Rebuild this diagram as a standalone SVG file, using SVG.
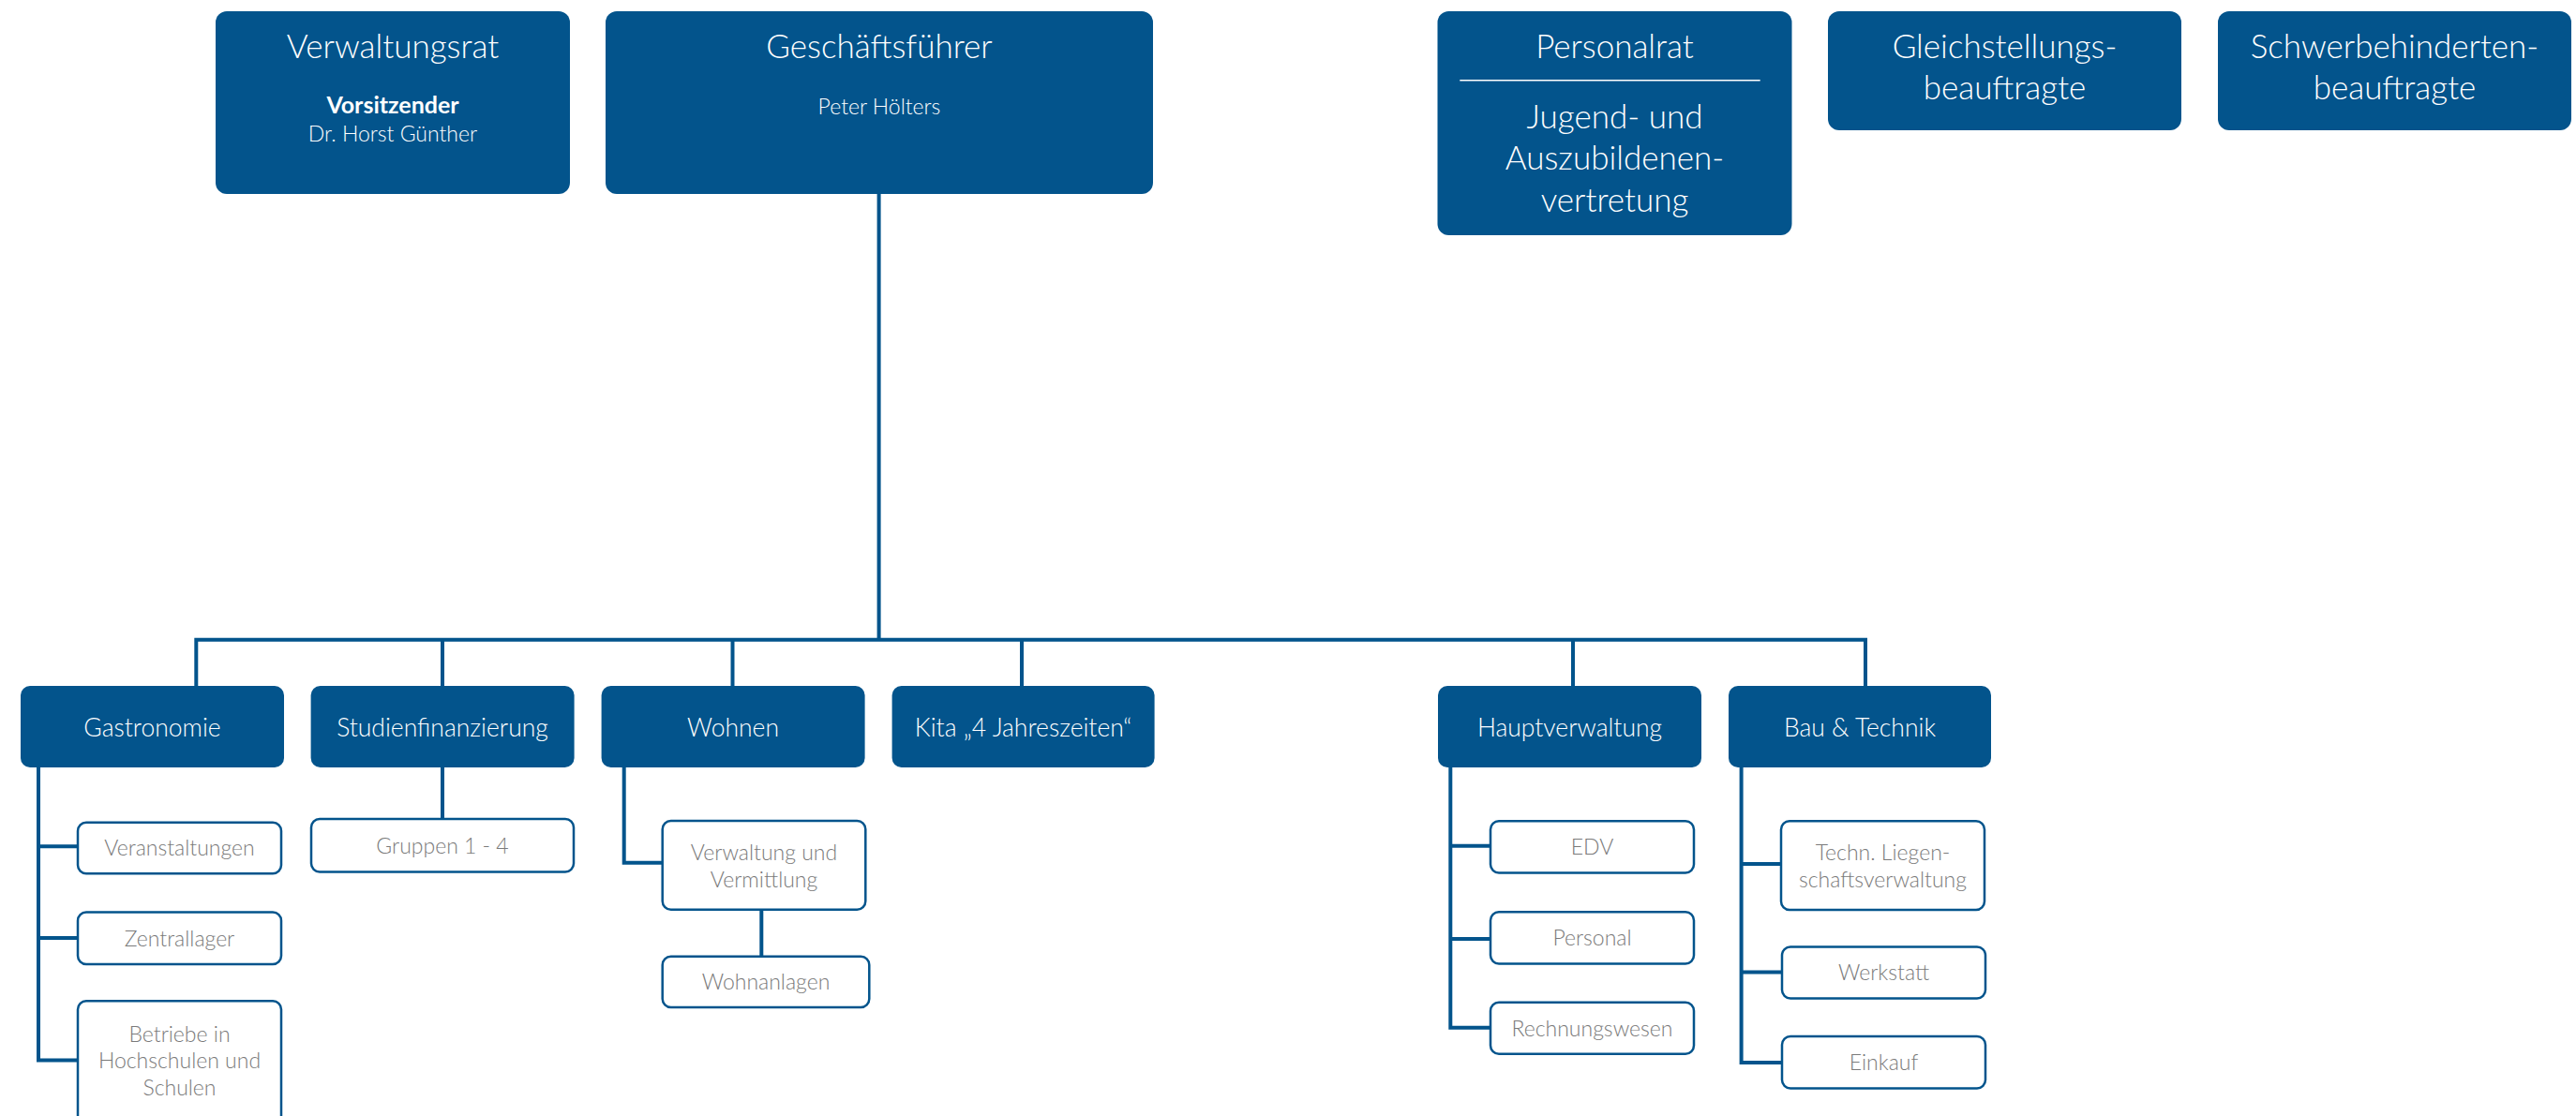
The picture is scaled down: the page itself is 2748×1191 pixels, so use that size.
<svg xmlns="http://www.w3.org/2000/svg" width="2748" height="1191" viewBox="0 0 2748 1191">
<style>
.dk{fill:#03548C;}
.sb{fill:#ffffff;stroke:#03548C;stroke-width:2.5;}
.ln{fill:none;stroke:#03548C;stroke-width:4;stroke-linejoin:miter;}
text{font-family:"Lato","Open Sans","Noto Sans",sans-serif;font-weight:300;text-anchor:middle;}
.t1{fill:#ffffff;font-size:35px;}
.t2{fill:#ffffff;font-size:26.5px;}
.t3{fill:#ffffff;font-size:23px;}
.tb{fill:#ffffff;font-size:25px;font-weight:700;}
.t4{fill:#7a7a7a;font-size:23px;}
</style>
<rect width="2748" height="1191" fill="#ffffff"/>
<g id="connectors">
<path class="ln" d="M937.6,207 V682.7"/>
<path class="ln" d="M209.3,732 V682.7 H1990 V732"/>
<path class="ln" d="M472,682.7 V732"/>
<path class="ln" d="M781.5,682.7 V732"/>
<path class="ln" d="M1090,682.7 V732"/>
<path class="ln" d="M1678,682.7 V732"/>
<path class="ln" d="M41,819 V1131.5 H83"/>
<path class="ln" d="M41,903.3 H83"/>
<path class="ln" d="M41,1001 H83"/>
<path class="ln" d="M472,819 V874"/>
<path class="ln" d="M665.7,819 V920.7 H706.7"/>
<path class="ln" d="M812.3,970.7 V1020.7"/>
<path class="ln" d="M1547.3,819 V1096.7 H1590"/>
<path class="ln" d="M1547.3,902.7 H1590"/>
<path class="ln" d="M1547.3,1002 H1590"/>
<path class="ln" d="M1857.6,819 V1134 H1901"/>
<path class="ln" d="M1857.6,922 H1900"/>
<path class="ln" d="M1857.6,1037.6 H1901"/>
</g>
<g id="verwaltungsrat">
<rect class="dk" x="230" y="12" width="378" height="195" rx="12"/>
<text class="t1" x="419" y="61.7">Verwaltungsrat</text>
<text class="tb" x="419" y="120.7">Vorsitzender</text>
<text class="t3" x="419" y="151">Dr. Horst Günther</text>
</g>
<g id="geschaeftsfuehrer">
<rect class="dk" x="646" y="12" width="584" height="195" rx="12"/>
<text class="t1" x="938" y="61.7">Geschäftsführer</text>
<text class="t3" x="938" y="121.5">Peter Hölters</text>
</g>
<g id="personalrat">
<rect class="dk" x="1533.5" y="12" width="378" height="239" rx="12"/>
<text class="t1" x="1722.5" y="61.7">Personalrat</text>
<line x1="1557.3" y1="85.7" x2="1877.7" y2="85.7" stroke="#ffffff" stroke-width="1.6"/>
<text class="t1" x="1722.5" y="136.7">Jugend- und</text>
<text class="t1" x="1722.5" y="181">Auszubildenen-</text>
<text class="t1" x="1722.5" y="225.5">vertretung</text>
</g>
<g id="gleichstellung">
<rect class="dk" x="1950" y="12" width="377" height="127" rx="12"/>
<text class="t1" x="2138.5" y="61.7">Gleichstellungs-</text>
<text class="t1" x="2138.5" y="106">beauftragte</text>
</g>
<g id="schwerbehinderten">
<rect class="dk" x="2366" y="12" width="377" height="127" rx="12"/>
<text class="t1" x="2554.5" y="61.7">Schwerbehinderten-</text>
<text class="t1" x="2554.5" y="106">beauftragte</text>
</g>
<g id="gastronomie">
<rect class="dk" x="22" y="732" width="281" height="87" rx="10"/>
<text class="t2" x="162.5" y="786">Gastronomie</text>
</g>
<g id="studienfinanzierung">
<rect class="dk" x="331.6" y="732" width="281" height="87" rx="10"/>
<text class="t2" x="472" y="786">Studienfinanzierung</text>
</g>
<g id="wohnen">
<rect class="dk" x="641.6" y="732" width="281" height="87" rx="10"/>
<text class="t2" x="782" y="786">Wohnen</text>
</g>
<g id="kita">
<rect class="dk" x="951.6" y="732" width="280" height="87" rx="10"/>
<text class="t2" x="1091.6" y="786">Kita „4 Jahreszeiten“</text>
</g>
<g id="hauptverwaltung">
<rect class="dk" x="1534" y="732" width="281" height="87" rx="10"/>
<text class="t2" x="1674.5" y="786">Hauptverwaltung</text>
</g>
<g id="bautechnik">
<rect class="dk" x="1844" y="732" width="280" height="87" rx="10"/>
<text class="t2" x="1984" y="786">Bau &amp; Technik</text>
</g>
<g id="veranstaltungen">
<rect class="sb" x="83" y="877.7" width="217" height="54.6" rx="9"/>
<text class="t4" x="191.5" y="913.3">Veranstaltungen</text>
</g>
<g id="zentrallager">
<rect class="sb" x="83" y="973.4" width="217" height="55.6" rx="9"/>
<text class="t4" x="191.5" y="1009.5">Zentrallager</text>
</g>
<g id="betriebe">
<rect class="sb" x="83" y="1068.3" width="217" height="135" rx="9"/>
<text class="t4" x="191.5" y="1111.7">Betriebe in</text>
<text class="t4" x="191.5" y="1140">Hochschulen und</text>
<text class="t4" x="191.5" y="1168.5">Schulen</text>
</g>
<g id="gruppen">
<rect class="sb" x="332" y="874" width="280" height="56.5" rx="9"/>
<text class="t4" x="472" y="910.5">Gruppen 1 - 4</text>
</g>
<g id="verwaltung-vermittlung">
<rect class="sb" x="706.7" y="876" width="216.6" height="94.7" rx="9"/>
<text class="t4" x="815" y="918.3">Verwaltung und</text>
<text class="t4" x="815" y="946.7">Vermittlung</text>
</g>
<g id="wohnanlagen">
<rect class="sb" x="706.7" y="1020.7" width="220.6" height="54.3" rx="9"/>
<text class="t4" x="817" y="1056.3">Wohnanlagen</text>
</g>
<g id="edv">
<rect class="sb" x="1590" y="876.3" width="217" height="55.1" rx="9"/>
<text class="t4" x="1698.5" y="911.5">EDV</text>
</g>
<g id="personal">
<rect class="sb" x="1590" y="973.3" width="217" height="55.1" rx="9"/>
<text class="t4" x="1698.5" y="1009">Personal</text>
</g>
<g id="rechnungswesen">
<rect class="sb" x="1590" y="1069.7" width="217" height="55.1" rx="9"/>
<text class="t4" x="1698.5" y="1105.5">Rechnungswesen</text>
</g>
<g id="techn-liegenschaft">
<rect class="sb" x="1900" y="876.3" width="217" height="94.7" rx="9"/>
<text class="t4" x="2008.5" y="918.3">Techn. Liegen-</text>
<text class="t4" x="2008.5" y="946.7">schaftsverwaltung</text>
</g>
<g id="werkstatt">
<rect class="sb" x="1901" y="1010.5" width="217" height="55.1" rx="9"/>
<text class="t4" x="2009.5" y="1046">Werkstatt</text>
</g>
<g id="einkauf">
<rect class="sb" x="1901" y="1106" width="217" height="55.6" rx="9"/>
<text class="t4" x="2009.5" y="1142">Einkauf</text>
</g>
</svg>
